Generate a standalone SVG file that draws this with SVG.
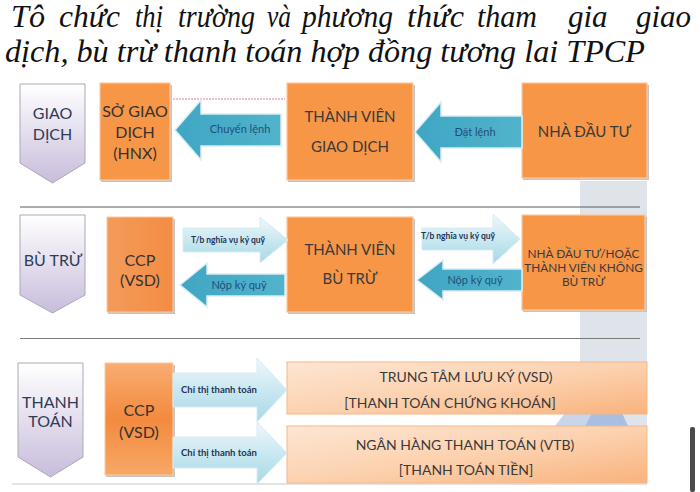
<svg xmlns="http://www.w3.org/2000/svg" width="700" height="492" viewBox="0 0 700 492">
<defs>
<linearGradient id="chev" x1="0" y1="0" x2="0" y2="1"><stop offset="0" stop-color="#ffffff"/><stop offset="1" stop-color="#c8bcdc"/></linearGradient>
<linearGradient id="teal" x1="0" y1="0" x2="1" y2="0"><stop offset="0" stop-color="#3fa6c3"/><stop offset="1" stop-color="#52b3cc"/></linearGradient>
<linearGradient id="lite" x1="0" y1="0" x2="0" y2="1"><stop offset="0" stop-color="#eef8fb"/><stop offset="1" stop-color="#a6d8e6"/></linearGradient>
<linearGradient id="peach" x1="0" y1="0" x2="1" y2="1"><stop offset="0" stop-color="#fde6d3"/><stop offset="0.5" stop-color="#fcd2b0"/><stop offset="1" stop-color="#f9b27c"/></linearGradient>
<linearGradient id="ccp3" x1="0" y1="0" x2="0" y2="1"><stop offset="0" stop-color="#f9ad72"/><stop offset="0.5" stop-color="#f38a3e"/><stop offset="1" stop-color="#f7a866"/></linearGradient>
<linearGradient id="ccp2" x1="0" y1="0" x2="1" y2="0"><stop offset="0" stop-color="#f49b5a"/><stop offset="1" stop-color="#f38c44"/></linearGradient>
<style>
.chev{fill:url(#chev);stroke:#a9a9b5;stroke-width:1}
.org{fill:#f79646;stroke:#fbc9a0;stroke-width:1.2}
.shd{fill:#c4c4c4}
.teal{fill:url(#teal);stroke:#d8eef4;stroke-width:1.5}
.lite{fill:url(#lite);stroke:#d6ecf2;stroke-width:1}
.peach{fill:url(#peach);stroke:#f3b88a;stroke-width:1}
.t{font-family:Lato,"Noto Sans",sans-serif;text-anchor:middle}
.ct{fill:#2f3b57;font-size:16px}
.bt{fill:#3a3a3a;font-size:15px}
.al{fill:#1f4f7a;font-size:11px}
.sl{fill:#1f3556;font-size:8.5px;font-weight:bold}
.sep{stroke:#5a5a5a;stroke-width:1}
.title{font-family:"Liberation Serif",serif;font-style:italic;font-size:31px;fill:#111}
</style>
</defs>
<rect width="700" height="492" fill="#ffffff"/>
<g id="background">
<rect x="580" y="181" width="67" height="245" fill="#dfe4ea"/>
<path d="M555 426 L565 413 L600 413 L606 426 Z" fill="#c9d6ea"/>
<path d="M585 426 L592 413 L622 413 L628 426 Z" fill="#a9bfe0"/>
<rect x="690" y="427" width="5" height="65" rx="2" fill="#4a4a4a"/>
</g>
<g id="title">
<text class="title" x="11" y="27" textLength="34" lengthAdjust="spacingAndGlyphs">Tô</text>
<text class="title" x="59" y="27" textLength="61" lengthAdjust="spacingAndGlyphs">chức</text>
<text class="title" x="135" y="27" textLength="28" lengthAdjust="spacingAndGlyphs">thị</text>
<text class="title" x="178" y="27" textLength="77" lengthAdjust="spacingAndGlyphs">trường</text>
<text class="title" x="267" y="27" textLength="24" lengthAdjust="spacingAndGlyphs">và</text>
<text class="title" x="302" y="27" textLength="91" lengthAdjust="spacingAndGlyphs">phương</text>
<text class="title" x="407" y="27" textLength="57" lengthAdjust="spacingAndGlyphs">thức</text>
<text class="title" x="477" y="27" textLength="60" lengthAdjust="spacingAndGlyphs">tham</text>
<text class="title" x="568" y="27">gia</text>
<text class="title" x="636" y="27">giao</text>
<text class="title" x="5" y="62" textLength="640" lengthAdjust="spacingAndGlyphs">dịch, bù trừ thanh toán hợp đồng tương lai TPCP</text>
</g>
<g id="separators">
<line class="sep" x1="20" y1="207" x2="640" y2="207"/>
<line x1="20" y1="338.5" x2="640" y2="338.5" stroke="#7a7a7a" stroke-width="1"/>
<line x1="12" y1="484" x2="647" y2="484" stroke="#c8c8c8" stroke-width="1"/>
</g>
<g id="row1-label"><path class="chev" d="M20 84 H85 V163 L52.5 183 L20 163 Z"/><text class="t ct" x="52.5" y="119">GIAO</text><text class="t ct" x="52.5" y="140">DỊCH</text></g>
<g id="row2-label"><path class="chev" d="M20 215 H85 V295 L52.5 313 L20 295 Z"/><text class="t ct" x="53" y="266">BÙ TRỪ</text></g>
<g id="row3-label"><path class="chev" d="M18 363 H83 V457 L50.5 477 L18 457 Z"/><text class="t ct" x="50.5" y="408">THANH</text><text class="t ct" x="50.5" y="427">TOÁN</text></g>
<g id="hnx"><rect class="shd" x="101" y="85" width="71" height="97"/><rect class="org" x="100" y="83" width="70" height="97"/><text class="t ct" x="135" y="117" style="fill:#333">SỞ GIAO</text><text class="t ct" x="135" y="138" style="fill:#333">DỊCH</text><text class="t ct" x="135" y="159" style="fill:#333">(HNX)</text></g>
<g id="tvgd"><rect class="shd" x="288" y="85" width="127" height="97"/><rect class="org" x="287" y="83" width="126" height="97"/><text class="t bt" x="350" y="122">THÀNH VIÊN</text><text class="t bt" x="350" y="152">GIAO DỊCH</text></g>
<g id="ndt"><rect class="shd" x="523" y="85" width="126" height="95"/><rect class="org" x="522" y="83" width="125" height="95"/><text class="t bt" x="584.5" y="137">NHÀ ĐẦU TƯ</text></g>
<g id="ccp2"><rect class="shd" x="108" y="219" width="67" height="95"/><rect x="107" y="217" width="66" height="95" fill="url(#ccp2)" stroke="#fbc9a0"/><text class="t ct" x="140" y="266" style="fill:#333">CCP</text><text class="t ct" x="140" y="286" style="fill:#333">(VSD)</text></g>
<g id="tvbt"><rect class="shd" x="288" y="219" width="127" height="95"/><rect class="org" x="287" y="217" width="126" height="95"/><text class="t bt" x="350" y="255">THÀNH VIÊN</text><text class="t bt" x="350" y="284">BÙ TRỪ</text></g>
<g id="ndt2"><rect class="shd" x="523" y="217" width="124" height="95"/><rect class="org" x="522" y="215" width="123" height="95"/><text class="t" x="583.5" y="258" style="fill:#3a3a3a;font-size:11.8px">NHÀ ĐẦU TƯ/HOẶC</text><text class="t" x="583.5" y="272" style="fill:#3a3a3a;font-size:11.8px">THÀNH VIÊN KHÔNG</text><text class="t" x="583.5" y="286" style="fill:#3a3a3a;font-size:11.8px">BÙ TRỪ</text></g>
<g id="ccp3"><rect class="shd" x="106" y="365" width="69" height="112"/><rect x="105" y="363" width="68" height="112" fill="url(#ccp3)" stroke="#fbc9a0"/><text class="t ct" x="139" y="416" style="fill:#333">CCP</text><text class="t ct" x="139" y="438" style="fill:#333">(VSD)</text></g>
<g id="vsd"><rect class="peach" x="287" y="362" width="360" height="52"/><text class="t" x="466" y="382" style="fill:#3a3a3a;font-size:14px">TRUNG TÂM LƯU KÝ (VSD)</text><text class="t" x="450" y="408" style="fill:#3a3a3a;font-size:14px">[THANH TOÁN CHỨNG KHOÁN]</text></g>
<g id="vtb"><rect class="peach" x="287" y="426" width="360" height="57"/><text class="t" x="465" y="450" style="fill:#3a3a3a;font-size:14px">NGÂN HÀNG THANH TOÁN (VTB)</text><text class="t" x="466" y="475" style="fill:#3a3a3a;font-size:14px">[THANH TOÁN TIỀN]</text></g>
<g id="connectors">
<line x1="173" y1="99" x2="285" y2="99" stroke="#d9808a" stroke-width="1" stroke-dasharray="2 1"/>
<polygon class="teal" points="175,130 201,100 201,114 281,114 281,146 201,146 201,160"/>
<text class="t al" x="240" y="133">Chuyển lệnh</text>
<polygon class="teal" points="415,132 441,102 441,116 522,116 522,148 441,148 441,162"/>
<text class="t al" x="475" y="136">Đặt lệnh</text>
<polygon class="lite" points="288,240 260,217 260,228 183,228 183,252 260,252 260,263"/>
<text class="t sl" x="228" y="243">T/b nghĩa vụ ký quỹ</text>
<polygon class="teal" points="180,285 207,263 207,274 285,274 285,296 207,296 207,307"/>
<text class="t al" x="239" y="289">Nộp ký quỹ</text>
<polygon class="lite" points="520,239 493,214 493,228 422,228 422,250 493,250 493,264"/>
<text class="t sl" x="458" y="239">T/b nghĩa vụ ký quỹ</text>
<polygon class="teal" points="417,280 443,260 443,269 522,269 522,291 443,291 443,300"/>
<text class="t al" x="475" y="284">Nộp ký quỹ</text>
<polygon class="lite" points="287,390 257,358 257,373 173,373 173,407 257,407 257,422"/>
<text class="t sl" x="219" y="393" style="font-size:9.5px">Chỉ thị thanh toán</text>
<polygon class="lite" points="287,453 257,422 257,437 173,437 173,468 257,468 257,484"/>
<text class="t sl" x="219" y="456" style="font-size:9.5px">Chỉ thị thanh toán</text>
</g>
</svg>
